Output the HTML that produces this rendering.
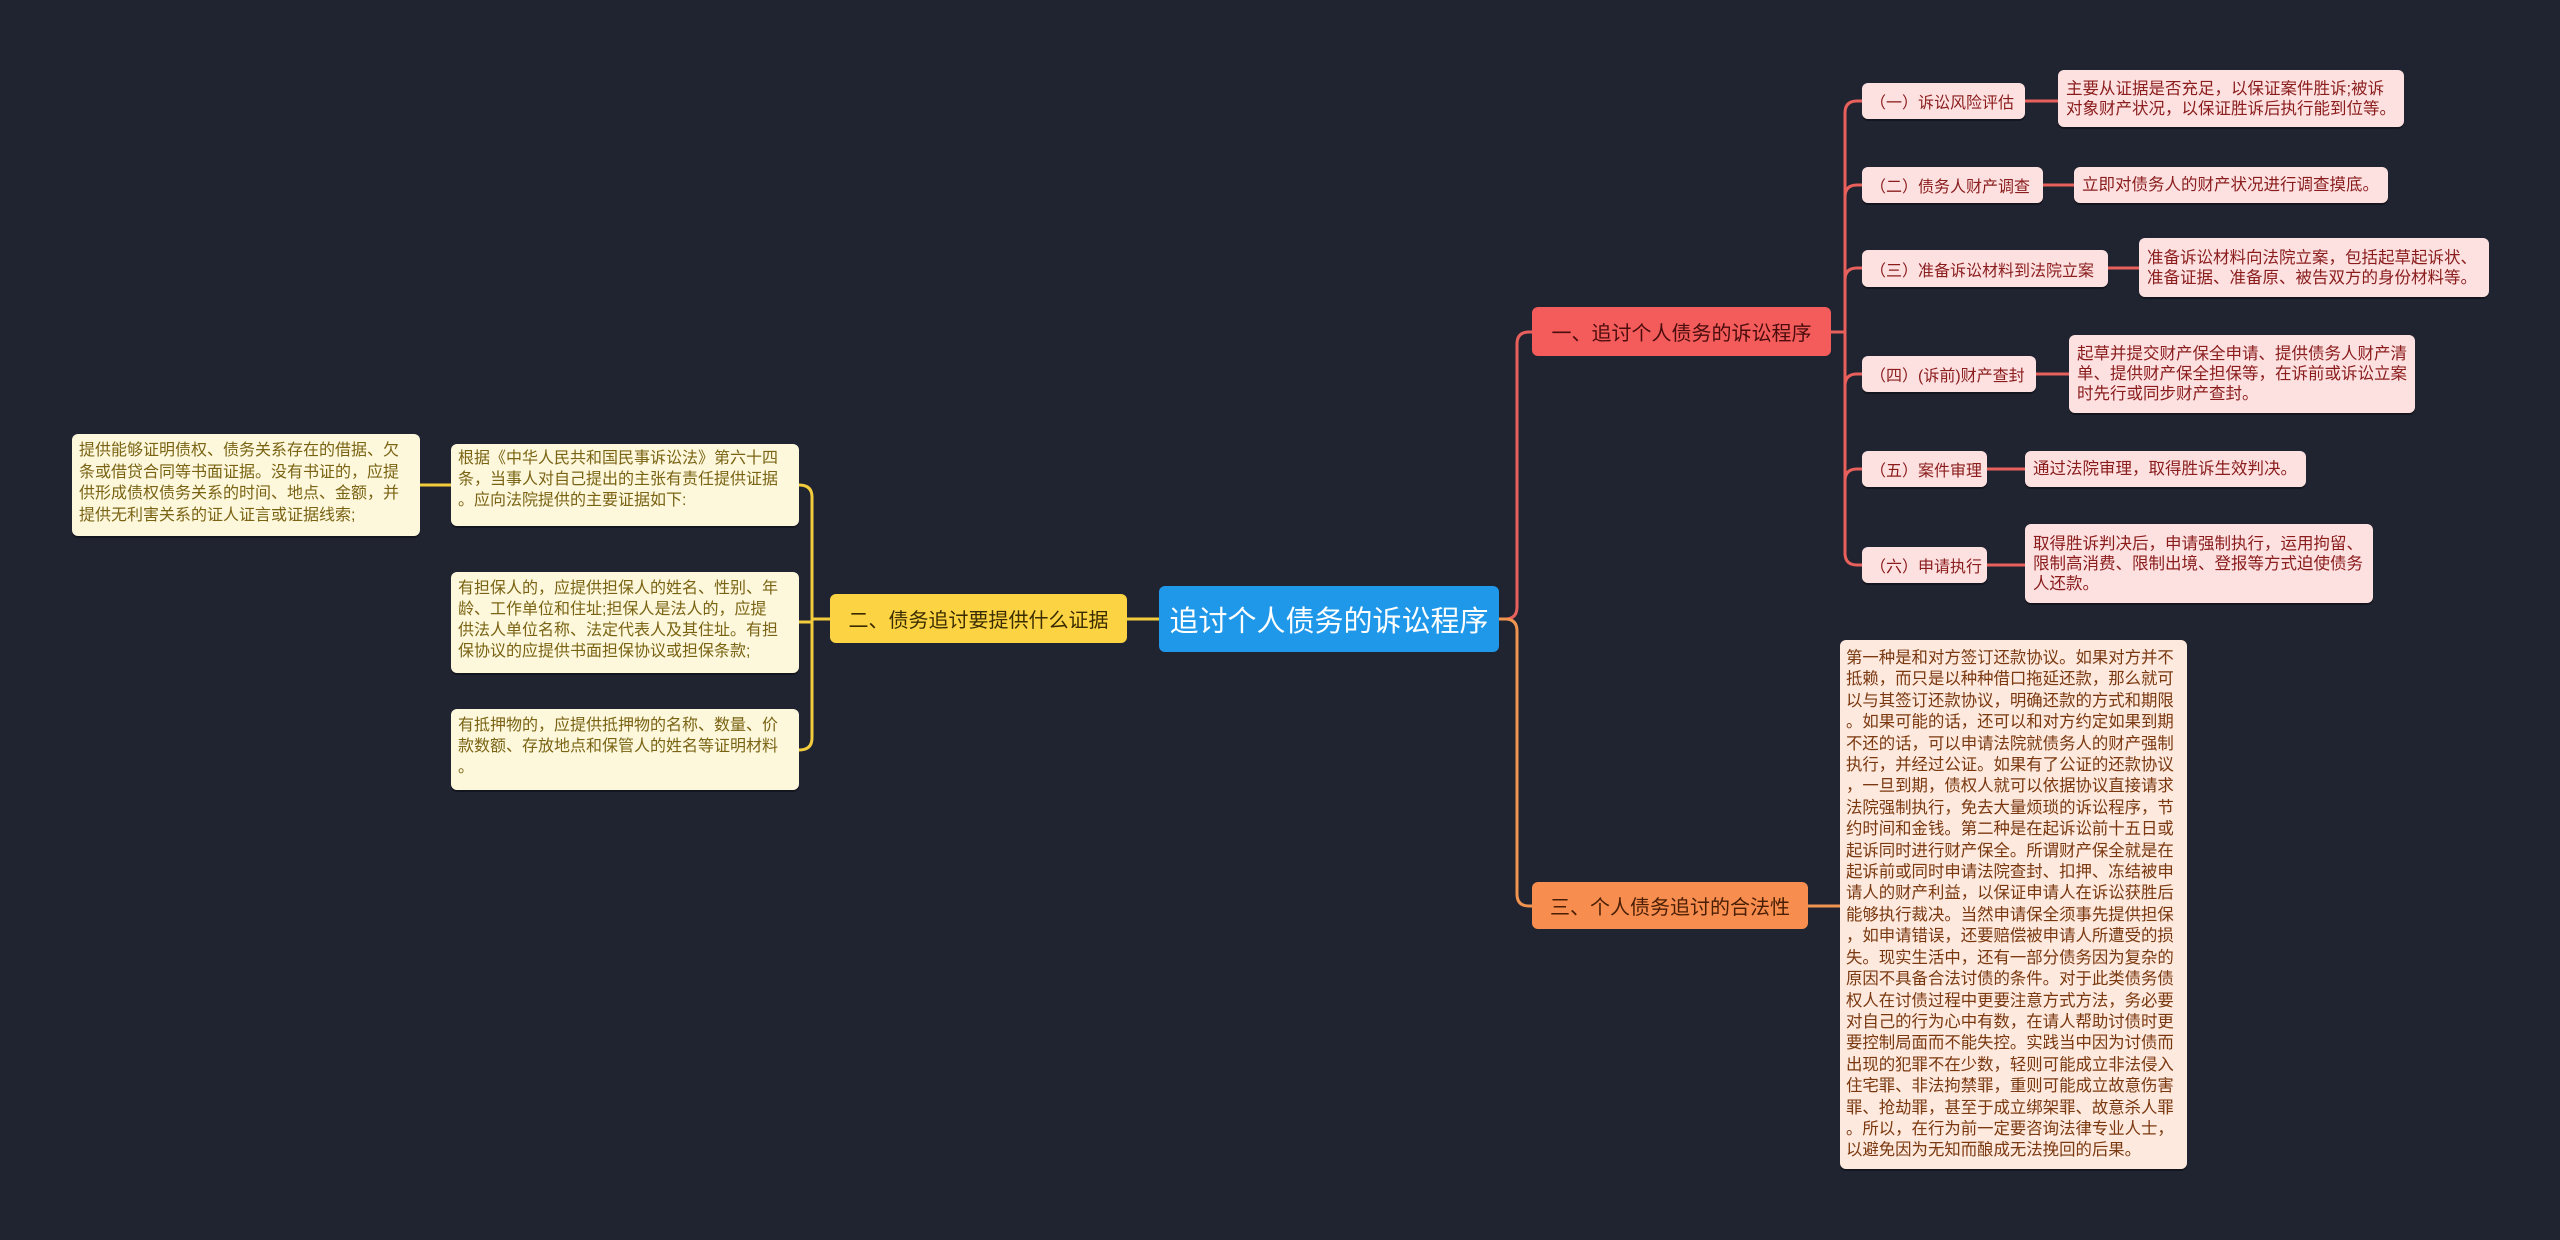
<!DOCTYPE html>
<html><head><meta charset="utf-8"><style>
body{margin:0;width:2560px;height:1240px;background:#202330;position:relative;overflow:hidden;font-family:"Liberation Sans","Noto Sans CJK SC",sans-serif;}
.n{position:absolute;box-sizing:border-box;border-radius:6px;white-space:nowrap;display:flex;align-items:center;}
.r{background:#fde1e1;color:#8a1c1c;font-size:16px;padding:0 8px;box-shadow:0 2px 0 rgba(0,0,0,.35);}
.rd{background:#fde1e1;color:#8a1c1c;font-size:16.5px;line-height:20px;padding:4px 8px;box-shadow:0 2px 0 rgba(0,0,0,.35);}
.y{background:#fdf7dc;color:#7a6414;font-size:16px;line-height:21px;padding:4px 7px;box-shadow:0 2px 0 rgba(0,0,0,.35);align-items:flex-start;}
.o{background:#fde9dd;color:#7a3810;font-size:16.4px;line-height:21.4px;padding:8px 6px;box-shadow:0 2px 0 rgba(0,0,0,.35);align-items:flex-start;}
</style></head><body>
<svg width="2560" height="1240" style="position:absolute;left:0;top:0" fill="none">
<g stroke="#e8605c" stroke-width="3">
<path d="M1499 619 H1505 Q1517 619 1517 607 V344 Q1517 332 1529 332 H1532"/>
<path d="M1831 332 H1845 M1845 113 V555 M1845 113 Q1845 101 1857 101 H1862 M1845 197 Q1845 185 1857 185 H1862 M1845 280 Q1845 268 1857 268 H1862 M1845 386 Q1845 374 1857 374 H1862 M1845 481 Q1845 469 1857 469 H1862 M1845 553 Q1845 565 1857 565 H1862"/>
<path d="M2025 101 H2058 M2043 185 H2074 M2108 268 H2139 M2036 374 H2069 M1987 469 H2025 M1987 565 H2025"/>
</g>
<g stroke="#f0944f" stroke-width="3">
<path d="M1499 619 H1505 Q1517 619 1517 631 V894 Q1517 906 1529 906 H1532 M1808 906 H1840"/>
</g>
<g stroke="#f2cc3c" stroke-width="3">
<path d="M1159 619 H1127 M830 619 H812 M812 497 V738 M799 485 Q812 485 812 497 M812 738 Q812 750 799 750 M799 622 H812 M451 485 H420"/>
</g>
</svg>
<div class="n" style="left:1159px;top:586px;width:340px;height:66px;background:#1f98ea;color:#fff;font-size:29px;justify-content:center;">追讨个人债务的诉讼程序</div>
<div class="n" style="left:1532px;top:307px;width:299px;height:49px;background:#f45b5b;color:#4a0c0c;font-size:20px;justify-content:center;">一、追讨个人债务的诉讼程序</div>
<div class="n" style="left:1532px;top:882px;width:276px;height:47px;background:#f78d4e;color:#4a1e04;font-size:20px;justify-content:center;">三、个人债务追讨的合法性</div>
<div class="n" style="left:830px;top:594px;width:297px;height:49px;background:#fcd443;color:#3a2c00;font-size:20px;justify-content:center;">二、债务追讨要提供什么证据</div>

<div class="n r" style="left:1862px;top:83px;width:163px;height:36px;">（一）诉讼风险评估</div>
<div class="n rd" style="left:2058px;top:70px;width:346px;height:57px;">主要从证据是否充足，以保证案件胜诉;被诉<br>对象财产状况，以保证胜诉后执行能到位等。</div>
<div class="n r" style="left:1862px;top:167px;width:181px;height:36px;">（二）债务人财产调查</div>
<div class="n rd" style="left:2074px;top:167px;width:314px;height:36px;">立即对债务人的财产状况进行调查摸底。</div>
<div class="n r" style="left:1862px;top:250px;width:246px;height:37px;">（三）准备诉讼材料到法院立案</div>
<div class="n rd" style="left:2139px;top:238px;width:350px;height:59px;">准备诉讼材料向法院立案，包括起草起诉状、<br>准备证据、准备原、被告双方的身份材料等。</div>
<div class="n r" style="left:1862px;top:356px;width:174px;height:36px;">（四）(诉前)财产查封</div>
<div class="n rd" style="left:2069px;top:335px;width:346px;height:78px;">起草并提交财产保全申请、提供债务人财产清<br>单、提供财产保全担保等，在诉前或诉讼立案<br>时先行或同步财产查封。</div>
<div class="n r" style="left:1862px;top:451px;width:125px;height:36px;">（五）案件审理</div>
<div class="n rd" style="left:2025px;top:451px;width:281px;height:36px;">通过法院审理，取得胜诉生效判决。</div>
<div class="n r" style="left:1862px;top:547px;width:125px;height:36px;">（六）申请执行</div>
<div class="n rd" style="left:2025px;top:524px;width:348px;height:79px;">取得胜诉判决后，申请强制执行，运用拘留、<br>限制高消费、限制出境、登报等方式迫使债务<br>人还款。</div>

<div class="n o" style="left:1840px;top:640px;width:347px;height:529px;">第一种是和对方签订还款协议。如果对方并不<br>抵赖，而只是以种种借口拖延还款，那么就可<br>以与其签订还款协议，明确还款的方式和期限<br>。如果可能的话，还可以和对方约定如果到期<br>不还的话，可以申请法院就债务人的财产强制<br>执行，并经过公证。如果有了公证的还款协议<br>，一旦到期，债权人就可以依据协议直接请求<br>法院强制执行，免去大量烦琐的诉讼程序，节<br>约时间和金钱。第二种是在起诉讼前十五日或<br>起诉同时进行财产保全。所谓财产保全就是在<br>起诉前或同时申请法院查封、扣押、冻结被申<br>请人的财产利益，以保证申请人在诉讼获胜后<br>能够执行裁决。当然申请保全须事先提供担保<br>，如申请错误，还要赔偿被申请人所遭受的损<br>失。现实生活中，还有一部分债务因为复杂的<br>原因不具备合法讨债的条件。对于此类债务债<br>权人在讨债过程中更要注意方式方法，务必要<br>对自己的行为心中有数，在请人帮助讨债时更<br>要控制局面而不能失控。实践当中因为讨债而<br>出现的犯罪不在少数，轻则可能成立非法侵入<br>住宅罪、非法拘禁罪，重则可能成立故意伤害<br>罪、抢劫罪，甚至于成立绑架罪、故意杀人罪<br>。所以，在行为前一定要咨询法律专业人士，<br>以避免因为无知而酿成无法挽回的后果。</div>

<div class="n y" style="left:451px;top:444px;width:348px;height:82px;">根据《中华人民共和国民事诉讼法》第六十四<br>条，当事人对自己提出的主张有责任提供证据<br>。应向法院提供的主要证据如下:</div>
<div class="n y" style="left:72px;top:434px;width:348px;height:102px;padding-top:6px;line-height:21.5px;">提供能够证明债权、债务关系存在的借据、欠<br>条或借贷合同等书面证据。没有书证的，应提<br>供形成债权债务关系的时间、地点、金额，并<br>提供无利害关系的证人证言或证据线索;</div>
<div class="n y" style="left:451px;top:572px;width:348px;height:101px;padding-top:6px;">有担保人的，应提供担保人的姓名、性别、年<br>龄、工作单位和住址;担保人是法人的，应提<br>供法人单位名称、法定代表人及其住址。有担<br>保协议的应提供书面担保协议或担保条款;</div>
<div class="n y" style="left:451px;top:709px;width:348px;height:81px;padding-top:6px;">有抵押物的，应提供抵押物的名称、数量、价<br>款数额、存放地点和保管人的姓名等证明材料<br>。</div>
</body></html>
